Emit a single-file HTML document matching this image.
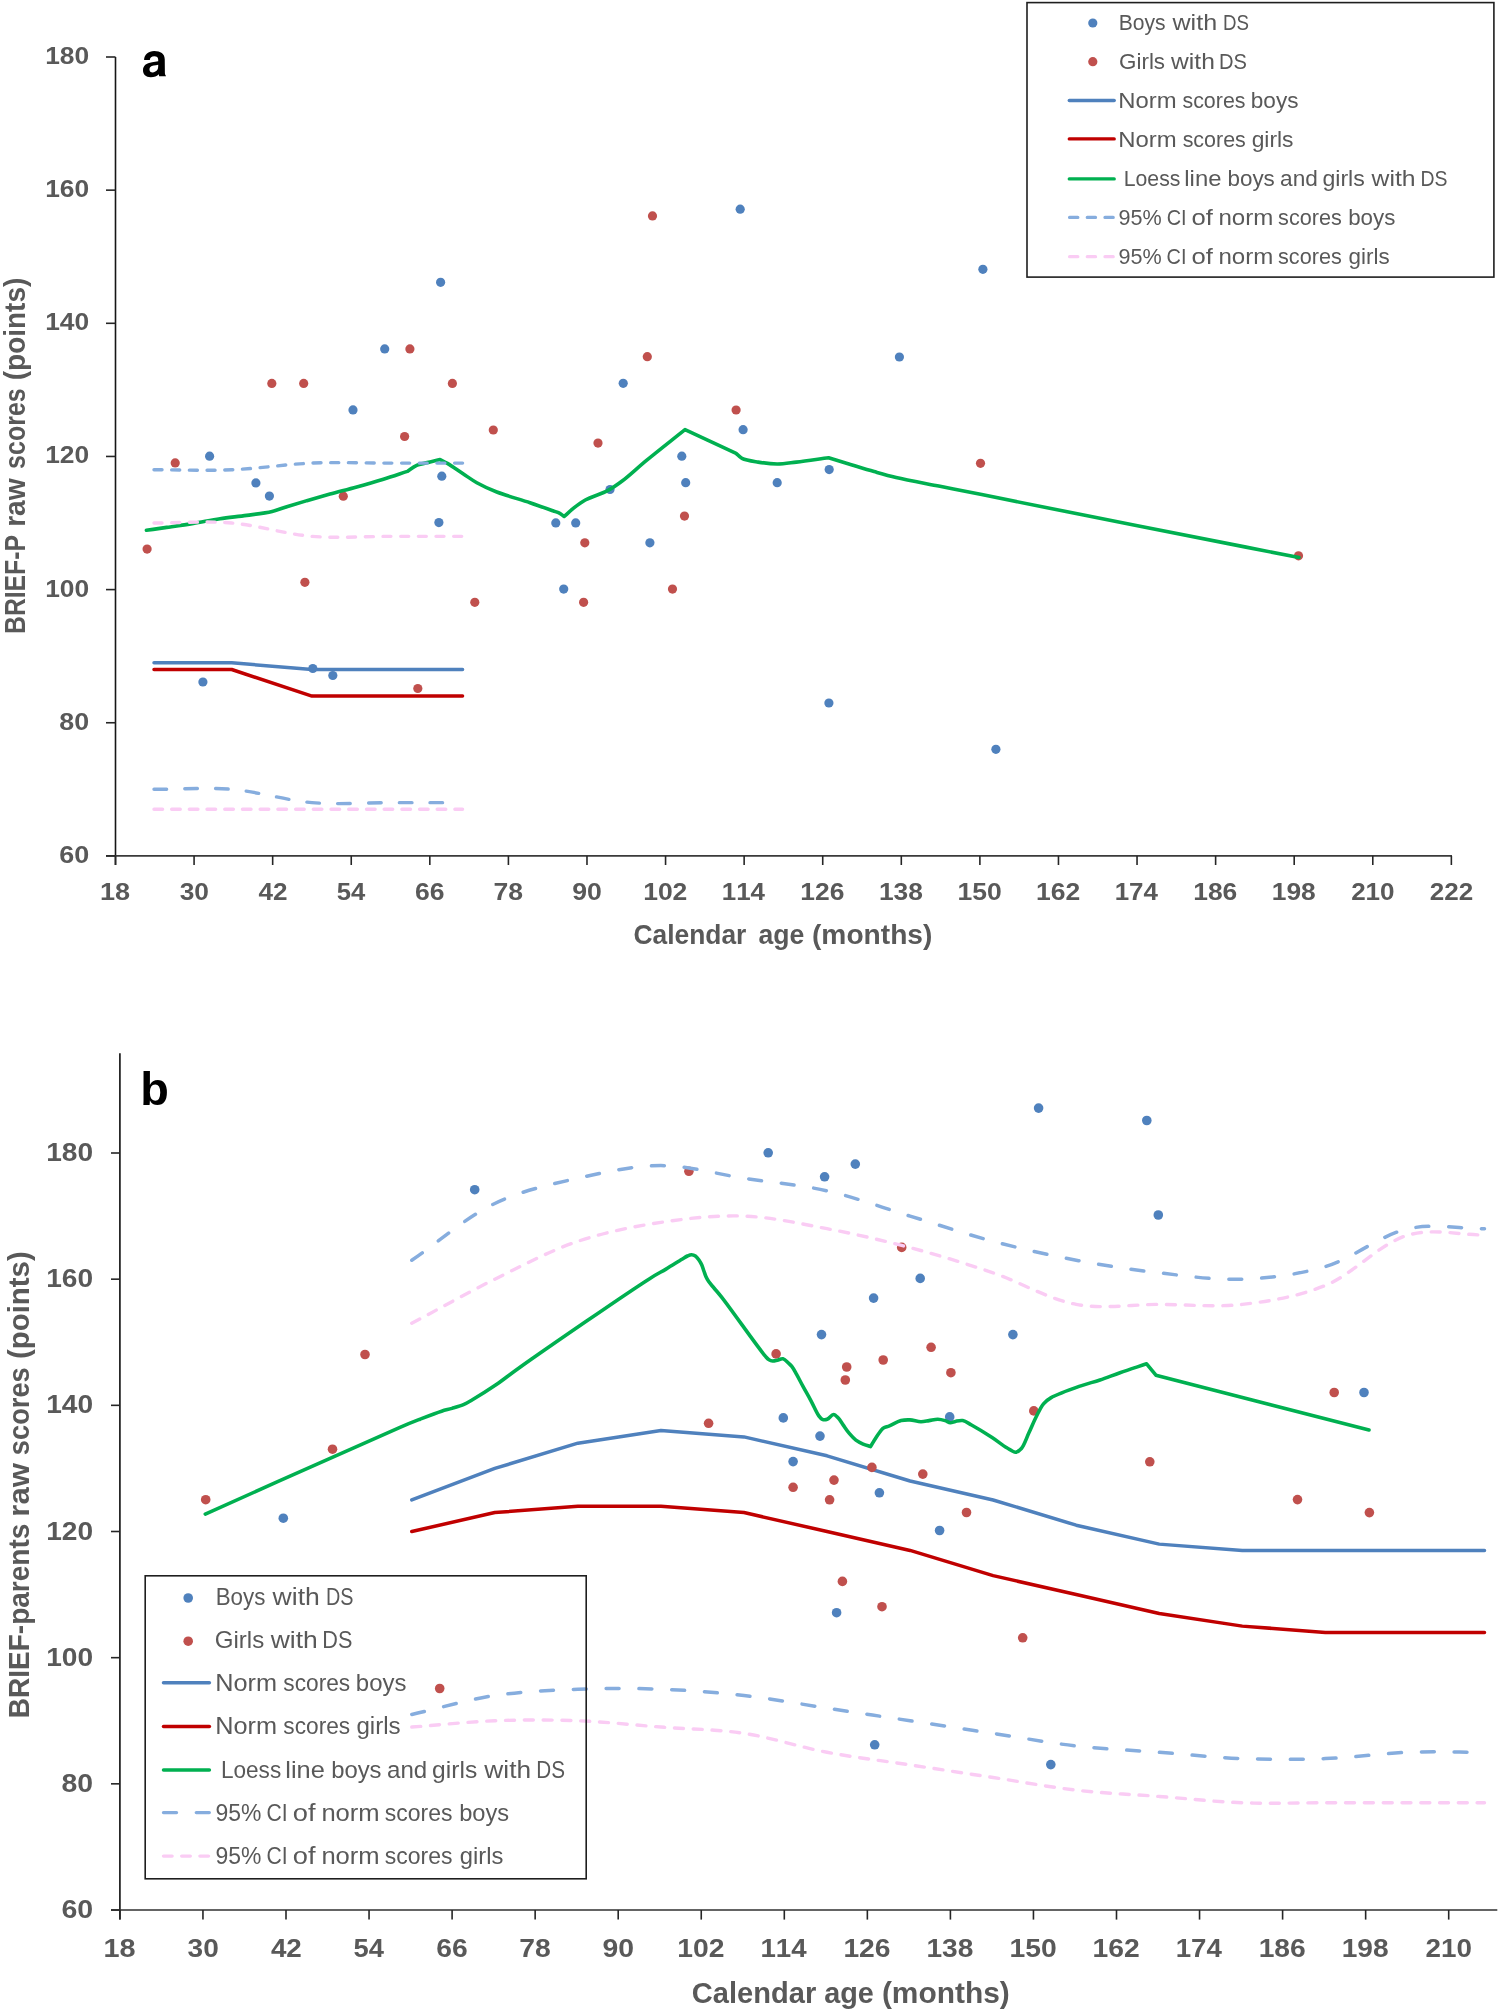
<!DOCTYPE html>
<html><head><meta charset="utf-8"><style>
html,body{margin:0;padding:0;background:#fff;}
svg{display:block;font-family:"Liberation Sans",sans-serif;font-kerning:none;will-change:transform;}
</style></head><body>
<svg width="1499" height="2012" viewBox="0 0 1499 2012">
<rect width="1499" height="2012" fill="#fff"/>
<line x1="115.5" y1="57.0" x2="115.5" y2="865" stroke="#161616" stroke-width="1.6"/>
<line x1="106" y1="855.9" x2="1452" y2="855.9" stroke="#3a3a3a" stroke-width="1.6"/>
<line x1="106" y1="57" x2="115.5" y2="57" stroke="#262626" stroke-width="1.6"/>
<line x1="106" y1="190.15" x2="115.5" y2="190.15" stroke="#262626" stroke-width="1.6"/>
<line x1="106" y1="323.3" x2="115.5" y2="323.3" stroke="#262626" stroke-width="1.6"/>
<line x1="106" y1="456.45" x2="115.5" y2="456.45" stroke="#262626" stroke-width="1.6"/>
<line x1="106" y1="589.6" x2="115.5" y2="589.6" stroke="#262626" stroke-width="1.6"/>
<line x1="106" y1="722.75" x2="115.5" y2="722.75" stroke="#262626" stroke-width="1.6"/>
<line x1="106" y1="855.9" x2="115.5" y2="855.9" stroke="#262626" stroke-width="1.6"/>
<line x1="115.5" y1="855.9" x2="115.5" y2="865" stroke="#262626" stroke-width="1.6"/>
<line x1="194.08" y1="855.9" x2="194.08" y2="865" stroke="#262626" stroke-width="1.6"/>
<line x1="272.66" y1="855.9" x2="272.66" y2="865" stroke="#262626" stroke-width="1.6"/>
<line x1="351.24" y1="855.9" x2="351.24" y2="865" stroke="#262626" stroke-width="1.6"/>
<line x1="429.82" y1="855.9" x2="429.82" y2="865" stroke="#262626" stroke-width="1.6"/>
<line x1="508.4" y1="855.9" x2="508.4" y2="865" stroke="#262626" stroke-width="1.6"/>
<line x1="586.98" y1="855.9" x2="586.98" y2="865" stroke="#262626" stroke-width="1.6"/>
<line x1="665.56" y1="855.9" x2="665.56" y2="865" stroke="#262626" stroke-width="1.6"/>
<line x1="744.14" y1="855.9" x2="744.14" y2="865" stroke="#262626" stroke-width="1.6"/>
<line x1="822.72" y1="855.9" x2="822.72" y2="865" stroke="#262626" stroke-width="1.6"/>
<line x1="901.3" y1="855.9" x2="901.3" y2="865" stroke="#262626" stroke-width="1.6"/>
<line x1="979.88" y1="855.9" x2="979.88" y2="865" stroke="#262626" stroke-width="1.6"/>
<line x1="1058.46" y1="855.9" x2="1058.46" y2="865" stroke="#262626" stroke-width="1.6"/>
<line x1="1137.04" y1="855.9" x2="1137.04" y2="865" stroke="#262626" stroke-width="1.6"/>
<line x1="1215.62" y1="855.9" x2="1215.62" y2="865" stroke="#262626" stroke-width="1.6"/>
<line x1="1294.2" y1="855.9" x2="1294.2" y2="865" stroke="#262626" stroke-width="1.6"/>
<line x1="1372.78" y1="855.9" x2="1372.78" y2="865" stroke="#262626" stroke-width="1.6"/>
<line x1="1451.36" y1="855.9" x2="1451.36" y2="865" stroke="#262626" stroke-width="1.6"/>
<text transform="translate(45.14,63.95) scale(1.0731,1)" font-size="24.6" font-weight="bold" fill="#595959">180</text>
<text transform="translate(45.14,197.1) scale(1.0731,1)" font-size="24.6" font-weight="bold" fill="#595959">160</text>
<text transform="translate(45.14,330.25) scale(1.0731,1)" font-size="24.6" font-weight="bold" fill="#595959">140</text>
<text transform="translate(45.14,463.4) scale(1.0731,1)" font-size="24.6" font-weight="bold" fill="#595959">120</text>
<text transform="translate(45.14,596.55) scale(1.0731,1)" font-size="24.6" font-weight="bold" fill="#595959">100</text>
<text transform="translate(59.35,729.7) scale(1.0910,1)" font-size="24.6" font-weight="bold" fill="#595959">80</text>
<text transform="translate(59.21,862.85) scale(1.0961,1)" font-size="24.6" font-weight="bold" fill="#595959">60</text>
<text transform="translate(99.99,899.95) scale(1.1015,1)" font-size="24.6" font-weight="bold" fill="#595959">18</text>
<text transform="translate(179.68,899.95) scale(1.0702,1)" font-size="24.6" font-weight="bold" fill="#595959">30</text>
<text transform="translate(258.46,899.95) scale(1.0613,1)" font-size="24.6" font-weight="bold" fill="#595959">42</text>
<text transform="translate(336.65,899.95) scale(1.0425,1)" font-size="24.6" font-weight="bold" fill="#595959">54</text>
<text transform="translate(415.05,899.95) scale(1.0793,1)" font-size="24.6" font-weight="bold" fill="#595959">66</text>
<text transform="translate(493.46,899.95) scale(1.0803,1)" font-size="24.6" font-weight="bold" fill="#595959">78</text>
<text transform="translate(572.26,899.95) scale(1.0823,1)" font-size="24.6" font-weight="bold" fill="#595959">90</text>
<text transform="translate(643.14,899.95) scale(1.0777,1)" font-size="24.6" font-weight="bold" fill="#595959">102</text>
<text transform="translate(721.76,899.95) scale(1.0543,1)" font-size="24.6" font-weight="bold" fill="#595959">114</text>
<text transform="translate(800.3,899.95) scale(1.0750,1)" font-size="24.6" font-weight="bold" fill="#595959">126</text>
<text transform="translate(878.89,899.95) scale(1.0713,1)" font-size="24.6" font-weight="bold" fill="#595959">138</text>
<text transform="translate(957.46,899.95) scale(1.0783,1)" font-size="24.6" font-weight="bold" fill="#595959">150</text>
<text transform="translate(1036.04,899.95) scale(1.0777,1)" font-size="24.6" font-weight="bold" fill="#595959">162</text>
<text transform="translate(1114.66,899.95) scale(1.0543,1)" font-size="24.6" font-weight="bold" fill="#595959">174</text>
<text transform="translate(1193.2,899.95) scale(1.0750,1)" font-size="24.6" font-weight="bold" fill="#595959">186</text>
<text transform="translate(1271.79,899.95) scale(1.0713,1)" font-size="24.6" font-weight="bold" fill="#595959">198</text>
<text transform="translate(1351.13,899.95) scale(1.0592,1)" font-size="24.6" font-weight="bold" fill="#595959">210</text>
<text transform="translate(1429.71,899.95) scale(1.0585,1)" font-size="24.6" font-weight="bold" fill="#595959">222</text>
<text transform="translate(633.52,944.1) scale(0.9259,1)" font-size="28.49" font-weight="bold" fill="#595959">Calendar</text>
<text transform="translate(758.52,944.1) scale(0.9327,1)" font-size="28.49" font-weight="bold" fill="#595959">age</text>
<text transform="translate(812,944.1) scale(0.9882,1)" font-size="28.49" font-weight="bold" fill="#595959">(months)</text>
<text transform="translate(24.85,633.95) rotate(-90) scale(0.8569,1)" font-size="28.85" font-weight="bold" fill="#595959">BRIEF-P</text>
<text transform="translate(24.85,526.86) rotate(-90) scale(0.9755,1)" font-size="28.85" font-weight="bold" fill="#595959">raw</text>
<text transform="translate(24.85,468.88) rotate(-90) scale(0.8664,1)" font-size="28.85" font-weight="bold" fill="#595959">scores</text>
<text transform="translate(24.85,380.19) rotate(-90) scale(0.9690,1)" font-size="28.85" font-weight="bold" fill="#595959">(points)</text>
<path transform="translate(135,40) scale(0.026684)" fill="#000" fill-rule="evenodd" d="M340,745 C350,560 500,415 720,415 C960,415 1110,520 1115,720 L1120,1240 C1122,1290 1140,1320 1160,1345 L1160,1362 L905,1362 L893,1280 C830,1352 720,1392 590,1392 C400,1392 300,1280 300,1130 C300,960 420,865 640,832 L870,800 L870,740 C868,650 820,610 720,610 C620,610 565,660 555,745 Z M870,930 C760,952 630,962 575,1010 C530,1050 530,1165 585,1198 C655,1242 790,1205 845,1110 C870,1062 870,990 870,930 Z"/>
<path d="M154,662.83 L231.73,662.83 L311.95,669.49 L390.53,669.49 L462.56,669.49" fill="none" stroke="#4F81BD" stroke-width="3.5" stroke-linecap="round" stroke-linejoin="round"/>
<path d="M154,669.49 L231.73,669.49 L311.95,696.12 L390.53,696.12 L462.56,696.12" fill="none" stroke="#C00000" stroke-width="3.5" stroke-linecap="round" stroke-linejoin="round"/>
<circle cx="440.6" cy="282.3" r="4.6" fill="#4F81BD"/>
<circle cx="384.7" cy="348.9" r="4.6" fill="#4F81BD"/>
<circle cx="353" cy="409.9" r="4.6" fill="#4F81BD"/>
<circle cx="209.6" cy="456.2" r="4.6" fill="#4F81BD"/>
<circle cx="255.9" cy="482.9" r="4.6" fill="#4F81BD"/>
<circle cx="269.4" cy="496.1" r="4.6" fill="#4F81BD"/>
<circle cx="441.8" cy="476.2" r="4.6" fill="#4F81BD"/>
<circle cx="438.9" cy="522.6" r="4.6" fill="#4F81BD"/>
<circle cx="740.2" cy="209.2" r="4.6" fill="#4F81BD"/>
<circle cx="623.2" cy="383.3" r="4.6" fill="#4F81BD"/>
<circle cx="743.1" cy="429.7" r="4.6" fill="#4F81BD"/>
<circle cx="681.8" cy="456.2" r="4.6" fill="#4F81BD"/>
<circle cx="685.7" cy="482.7" r="4.6" fill="#4F81BD"/>
<circle cx="777.2" cy="482.7" r="4.6" fill="#4F81BD"/>
<circle cx="610" cy="489.5" r="4.6" fill="#4F81BD"/>
<circle cx="555.8" cy="522.9" r="4.6" fill="#4F81BD"/>
<circle cx="575.7" cy="522.9" r="4.6" fill="#4F81BD"/>
<circle cx="649.9" cy="542.8" r="4.6" fill="#4F81BD"/>
<circle cx="563.7" cy="589.1" r="4.6" fill="#4F81BD"/>
<circle cx="982.9" cy="269.3" r="4.6" fill="#4F81BD"/>
<circle cx="899.4" cy="357" r="4.6" fill="#4F81BD"/>
<circle cx="829.2" cy="469.6" r="4.6" fill="#4F81BD"/>
<circle cx="828.9" cy="703" r="4.6" fill="#4F81BD"/>
<circle cx="995.9" cy="749.3" r="4.6" fill="#4F81BD"/>
<circle cx="202.9" cy="682" r="4.6" fill="#4F81BD"/>
<circle cx="312.8" cy="668.5" r="4.6" fill="#4F81BD"/>
<circle cx="332.8" cy="675.5" r="4.6" fill="#4F81BD"/>
<circle cx="409.9" cy="348.9" r="4.6" fill="#C0504D"/>
<circle cx="271.8" cy="383.4" r="4.6" fill="#C0504D"/>
<circle cx="303.7" cy="383.4" r="4.6" fill="#C0504D"/>
<circle cx="452.4" cy="383.4" r="4.6" fill="#C0504D"/>
<circle cx="175.2" cy="462.9" r="4.6" fill="#C0504D"/>
<circle cx="404.6" cy="436.5" r="4.6" fill="#C0504D"/>
<circle cx="343.3" cy="496.2" r="4.6" fill="#C0504D"/>
<circle cx="147.1" cy="549.1" r="4.6" fill="#C0504D"/>
<circle cx="652.5" cy="215.9" r="4.6" fill="#C0504D"/>
<circle cx="647.3" cy="356.7" r="4.6" fill="#C0504D"/>
<circle cx="493.3" cy="430" r="4.6" fill="#C0504D"/>
<circle cx="598" cy="443.1" r="4.6" fill="#C0504D"/>
<circle cx="736.1" cy="410" r="4.6" fill="#C0504D"/>
<circle cx="684.5" cy="516.1" r="4.6" fill="#C0504D"/>
<circle cx="584.8" cy="542.8" r="4.6" fill="#C0504D"/>
<circle cx="474.8" cy="602.3" r="4.6" fill="#C0504D"/>
<circle cx="583.6" cy="602.3" r="4.6" fill="#C0504D"/>
<circle cx="672.5" cy="589.1" r="4.6" fill="#C0504D"/>
<circle cx="980.5" cy="463.3" r="4.6" fill="#C0504D"/>
<circle cx="1298.5" cy="555.8" r="4.6" fill="#C0504D"/>
<circle cx="304.9" cy="582.3" r="4.6" fill="#C0504D"/>
<circle cx="417.8" cy="688.5" r="4.6" fill="#C0504D"/>
<path d="M146.4,530.3 C153.17,529.33 159.47,528.46 166.7,527.4 C174.99,526.19 184.52,524.85 193.4,523.4 C202.28,521.95 211.11,520.03 220,518.7 C228.87,517.37 237.92,516.63 246.7,515.4 C255.28,514.19 264.84,513.12 272.1,511.4 C277.72,510.07 281.52,508.34 286.8,506.7 C292.95,504.8 299.88,502.72 306.8,500.7 C314.24,498.53 321.99,496.31 330,494.1 C338.58,491.74 347.82,489.48 356.7,487 C365.62,484.51 374.76,481.87 383.4,479.2 C391.63,476.66 399.4,474 407.4,471.4 C410.5,469.4 413.18,466.93 416.7,465.4 C420.64,463.69 425.96,463.02 430.1,462 C433.67,461.12 436.77,460.4 440.1,459.6 C442.53,460.87 444.55,461.72 447.4,463.4 C451.76,465.97 458.3,470.65 463.4,474 C468.06,477.05 471.78,479.92 476.8,482.7 C482.7,485.97 489.19,489.02 496.8,492 C506.37,495.75 519.98,499.31 530,502.7 C538.36,505.53 547.6,508.88 552.9,510.8 C555.73,511.82 557.45,512.19 559.4,513.2 C561.18,514.12 562.6,515.4 564.2,516.5 C567.23,513.8 569.97,511.03 573.3,508.4 C576.95,505.52 580.5,502.65 585.3,500 C591.54,496.55 601.51,493.94 608.1,490.4 C613.61,487.44 617.22,484.78 622.5,480.8 C629.62,475.43 637.5,467.82 646.5,460.4 C657.76,451.11 672.17,439.87 685,429.6 L736.1,453.3 C738.07,455 739.33,457.05 742,458.4 C745.9,460.37 752.55,461.18 758.2,462.1 C764.25,463.09 770.86,464 777.2,464 C783.56,464 789.11,462.95 796.3,462.1 C805.67,461 817.83,459.17 828.6,457.7 C836.43,460.13 844.39,462.65 852.1,465 C859.55,467.27 866.75,469.51 874.1,471.6 C881.42,473.68 887.47,475.48 896.1,477.5 C908.19,480.33 925.55,483.41 940,486.3 C954.08,489.11 963.33,490.93 981.7,494.6 C1017.5,501.75 1087.16,515.83 1140,526.3 C1192.93,536.79 1246,547.1 1299,557.5" fill="none" stroke="#00B050" stroke-width="3.6" stroke-linecap="round" stroke-linejoin="round"/>
<path d="M154,469.76 C179.91,469.76 205.64,470.85 231.73,469.76 C258.28,468.67 285.33,464.21 311.95,463.11 C338.26,462.02 364.91,463.11 390.53,463.11 C415.06,463.11 438.55,463.11 462.56,463.11" fill="none" stroke="#86ADDE" stroke-width="3.4" stroke-linecap="round" stroke-linejoin="round" stroke-dasharray="8 9.7"/>
<path d="M154,789.32 C179.91,789.32 205.71,787.18 231.73,789.32 C258.35,791.52 285.26,800.44 311.95,802.64 C338.19,804.8 365.27,802.64 390.53,802.64 C414.04,802.64 435.93,802.64 458.63,802.64" fill="none" stroke="#86ADDE" stroke-width="3.4" stroke-linecap="round" stroke-linejoin="round" stroke-dasharray="12.6 18.2"/>
<path d="M154,523.02 C179.91,523.02 205.71,520.88 231.73,523.02 C258.35,525.22 285.26,534.14 311.95,536.34 C338.19,538.5 364.91,536.34 390.53,536.34 C415.06,536.34 438.55,536.34 462.56,536.34" fill="none" stroke="#FACCF4" stroke-width="3.4" stroke-linecap="round" stroke-linejoin="round" stroke-dasharray="8 9.7"/>
<path d="M154,809.3 C179.91,809.3 205.62,809.3 231.73,809.3 C258.26,809.3 285.35,809.3 311.95,809.3 C338.28,809.3 364.91,809.3 390.53,809.3 C415.06,809.3 438.55,809.3 462.56,809.3" fill="none" stroke="#FACCF4" stroke-width="3.4" stroke-linecap="round" stroke-linejoin="round" stroke-dasharray="8.6 9.1"/>
<rect x="1027" y="2.6" width="466.9" height="274.5" fill="none" stroke="#1e1e1e" stroke-width="1.6"/>
<circle cx="1092.8" cy="23" r="4.6" fill="#4F81BD"/>
<circle cx="1092.8" cy="61.7" r="4.6" fill="#C0504D"/>
<line x1="1069.3" y1="100.5" x2="1114.2" y2="100.5" stroke="#4F81BD" stroke-width="3.4" stroke-linecap="round"/>
<line x1="1069.3" y1="138.9" x2="1114.2" y2="138.9" stroke="#C00000" stroke-width="3.4" stroke-linecap="round"/>
<line x1="1069.3" y1="178.9" x2="1114.2" y2="178.9" stroke="#00B050" stroke-width="3.4" stroke-linecap="round"/>
<line x1="1069.6" y1="217.4" x2="1114.2" y2="217.4" stroke="#86ADDE" stroke-width="3.3" stroke-linecap="round" stroke-dasharray="8.2 9.5"/>
<line x1="1069.6" y1="256.7" x2="1114.2" y2="256.7" stroke="#FACCF4" stroke-width="3.3" stroke-linecap="round" stroke-dasharray="8.2 9.5"/>
<line x1="119.9" y1="1053.3" x2="119.9" y2="1919.6" stroke="#1c1c1c" stroke-width="1.7"/>
<line x1="111" y1="1910.0" x2="1497.3" y2="1910.0" stroke="#303030" stroke-width="1.7"/>
<line x1="111" y1="1153" x2="119.9" y2="1153" stroke="#262626" stroke-width="1.6"/>
<line x1="111" y1="1279.17" x2="119.9" y2="1279.17" stroke="#262626" stroke-width="1.6"/>
<line x1="111" y1="1405.33" x2="119.9" y2="1405.33" stroke="#262626" stroke-width="1.6"/>
<line x1="111" y1="1531.5" x2="119.9" y2="1531.5" stroke="#262626" stroke-width="1.6"/>
<line x1="111" y1="1657.67" x2="119.9" y2="1657.67" stroke="#262626" stroke-width="1.6"/>
<line x1="111" y1="1783.83" x2="119.9" y2="1783.83" stroke="#262626" stroke-width="1.6"/>
<line x1="111" y1="1910" x2="119.9" y2="1910" stroke="#262626" stroke-width="1.6"/>
<line x1="119.9" y1="1910.0" x2="119.9" y2="1919.6" stroke="#262626" stroke-width="1.6"/>
<line x1="202.95" y1="1910.0" x2="202.95" y2="1919.6" stroke="#262626" stroke-width="1.6"/>
<line x1="286" y1="1910.0" x2="286" y2="1919.6" stroke="#262626" stroke-width="1.6"/>
<line x1="369.05" y1="1910.0" x2="369.05" y2="1919.6" stroke="#262626" stroke-width="1.6"/>
<line x1="452.1" y1="1910.0" x2="452.1" y2="1919.6" stroke="#262626" stroke-width="1.6"/>
<line x1="535.15" y1="1910.0" x2="535.15" y2="1919.6" stroke="#262626" stroke-width="1.6"/>
<line x1="618.2" y1="1910.0" x2="618.2" y2="1919.6" stroke="#262626" stroke-width="1.6"/>
<line x1="701.25" y1="1910.0" x2="701.25" y2="1919.6" stroke="#262626" stroke-width="1.6"/>
<line x1="784.3" y1="1910.0" x2="784.3" y2="1919.6" stroke="#262626" stroke-width="1.6"/>
<line x1="867.35" y1="1910.0" x2="867.35" y2="1919.6" stroke="#262626" stroke-width="1.6"/>
<line x1="950.4" y1="1910.0" x2="950.4" y2="1919.6" stroke="#262626" stroke-width="1.6"/>
<line x1="1033.45" y1="1910.0" x2="1033.45" y2="1919.6" stroke="#262626" stroke-width="1.6"/>
<line x1="1116.5" y1="1910.0" x2="1116.5" y2="1919.6" stroke="#262626" stroke-width="1.6"/>
<line x1="1199.55" y1="1910.0" x2="1199.55" y2="1919.6" stroke="#262626" stroke-width="1.6"/>
<line x1="1282.6" y1="1910.0" x2="1282.6" y2="1919.6" stroke="#262626" stroke-width="1.6"/>
<line x1="1365.65" y1="1910.0" x2="1365.65" y2="1919.6" stroke="#262626" stroke-width="1.6"/>
<line x1="1448.7" y1="1910.0" x2="1448.7" y2="1919.6" stroke="#262626" stroke-width="1.6"/>
<text transform="translate(46.23,1161) scale(1.1073,1)" font-size="25.4" font-weight="bold" fill="#595959">180</text>
<text transform="translate(46.23,1287.17) scale(1.1073,1)" font-size="25.4" font-weight="bold" fill="#595959">160</text>
<text transform="translate(46.23,1413.33) scale(1.1073,1)" font-size="25.4" font-weight="bold" fill="#595959">140</text>
<text transform="translate(46.23,1539.5) scale(1.1073,1)" font-size="25.4" font-weight="bold" fill="#595959">120</text>
<text transform="translate(46.23,1665.67) scale(1.1073,1)" font-size="25.4" font-weight="bold" fill="#595959">100</text>
<text transform="translate(61.6,1791.83) scale(1.1172,1)" font-size="25.4" font-weight="bold" fill="#595959">80</text>
<text transform="translate(61.46,1918) scale(1.1225,1)" font-size="25.4" font-weight="bold" fill="#595959">60</text>
<text transform="translate(103.38,1956.95) scale(1.1364,1)" font-size="25.4" font-weight="bold" fill="#595959">18</text>
<text transform="translate(187.61,1956.95) scale(1.1041,1)" font-size="25.4" font-weight="bold" fill="#595959">30</text>
<text transform="translate(270.88,1956.95) scale(1.0949,1)" font-size="25.4" font-weight="bold" fill="#595959">42</text>
<text transform="translate(353.51,1956.95) scale(1.0756,1)" font-size="25.4" font-weight="bold" fill="#595959">54</text>
<text transform="translate(436.36,1956.95) scale(1.1134,1)" font-size="25.4" font-weight="bold" fill="#595959">66</text>
<text transform="translate(519.23,1956.95) scale(1.1145,1)" font-size="25.4" font-weight="bold" fill="#595959">78</text>
<text transform="translate(602.52,1956.95) scale(1.1166,1)" font-size="25.4" font-weight="bold" fill="#595959">90</text>
<text transform="translate(677.32,1956.95) scale(1.1141,1)" font-size="25.4" font-weight="bold" fill="#595959">102</text>
<text transform="translate(760.41,1956.95) scale(1.0900,1)" font-size="25.4" font-weight="bold" fill="#595959">114</text>
<text transform="translate(843.42,1956.95) scale(1.1114,1)" font-size="25.4" font-weight="bold" fill="#595959">126</text>
<text transform="translate(926.48,1956.95) scale(1.1076,1)" font-size="25.4" font-weight="bold" fill="#595959">138</text>
<text transform="translate(1009.52,1956.95) scale(1.1148,1)" font-size="25.4" font-weight="bold" fill="#595959">150</text>
<text transform="translate(1092.57,1956.95) scale(1.1141,1)" font-size="25.4" font-weight="bold" fill="#595959">162</text>
<text transform="translate(1175.66,1956.95) scale(1.0900,1)" font-size="25.4" font-weight="bold" fill="#595959">174</text>
<text transform="translate(1258.67,1956.95) scale(1.1114,1)" font-size="25.4" font-weight="bold" fill="#595959">186</text>
<text transform="translate(1341.73,1956.95) scale(1.1076,1)" font-size="25.4" font-weight="bold" fill="#595959">198</text>
<text transform="translate(1425.59,1956.95) scale(1.0950,1)" font-size="25.4" font-weight="bold" fill="#595959">210</text>
<text transform="translate(691.81,2002.6) scale(0.9855,1)" font-size="29.51" font-weight="bold" fill="#595959">Calendar</text>
<text transform="translate(824.26,2002.6) scale(0.9761,1)" font-size="29.51" font-weight="bold" fill="#595959">age</text>
<text transform="translate(881.91,2002.6) scale(1.0133,1)" font-size="29.51" font-weight="bold" fill="#595959">(months)</text>
<text transform="translate(28.7,1718.28) rotate(-90) scale(0.9296,1)" font-size="30.16" font-weight="bold" fill="#595959">BRIEF-parents</text>
<text transform="translate(28.7,1516.64) rotate(-90) scale(1.0271,1)" font-size="30.16" font-weight="bold" fill="#595959">raw</text>
<text transform="translate(28.7,1455.16) rotate(-90) scale(0.9046,1)" font-size="30.16" font-weight="bold" fill="#595959">scores</text>
<text transform="translate(28.7,1359.07) rotate(-90) scale(0.9754,1)" font-size="30.16" font-weight="bold" fill="#595959">(points)</text>
<text transform="translate(140.2,1105.2) scale(1.02,1)" font-size="45.9" font-weight="bold" fill="#000">b</text>
<path d="M411.78,1499.96 L494.82,1468.42 L577.88,1443.18 L660.93,1430.57 L743.98,1436.88 L827.02,1455.8 L910.08,1481.03 L993.12,1499.96 L1076.18,1525.19 L1159.23,1544.12 L1242.28,1550.42 L1325.33,1550.42 L1408.38,1550.42 L1484.5,1550.42" fill="none" stroke="#4F81BD" stroke-width="3.5" stroke-linecap="round" stroke-linejoin="round"/>
<path d="M411.78,1531.5 L494.82,1512.58 L577.88,1506.27 L660.93,1506.27 L743.98,1512.58 L827.02,1531.5 L910.08,1550.42 L993.12,1575.66 L1076.18,1594.58 L1159.23,1613.51 L1242.28,1626.12 L1325.33,1632.43 L1408.38,1632.43 L1484.5,1632.43" fill="none" stroke="#C00000" stroke-width="3.5" stroke-linecap="round" stroke-linejoin="round"/>
<circle cx="474.7" cy="1189.7" r="4.8" fill="#4F81BD"/>
<circle cx="283.3" cy="1518.2" r="4.8" fill="#4F81BD"/>
<circle cx="768.2" cy="1152.8" r="4.8" fill="#4F81BD"/>
<circle cx="824.6" cy="1176.8" r="4.8" fill="#4F81BD"/>
<circle cx="821.5" cy="1334.6" r="4.8" fill="#4F81BD"/>
<circle cx="783.3" cy="1417.9" r="4.8" fill="#4F81BD"/>
<circle cx="1038.6" cy="1108.1" r="4.8" fill="#4F81BD"/>
<circle cx="855.3" cy="1164.1" r="4.8" fill="#4F81BD"/>
<circle cx="920.2" cy="1278.4" r="4.8" fill="#4F81BD"/>
<circle cx="873.6" cy="1298.1" r="4.8" fill="#4F81BD"/>
<circle cx="1012.9" cy="1334.6" r="4.8" fill="#4F81BD"/>
<circle cx="949.7" cy="1416.9" r="4.8" fill="#4F81BD"/>
<circle cx="820" cy="1436.1" r="4.8" fill="#4F81BD"/>
<circle cx="793.1" cy="1461.6" r="4.8" fill="#4F81BD"/>
<circle cx="879.4" cy="1492.8" r="4.8" fill="#4F81BD"/>
<circle cx="939.6" cy="1530.5" r="4.8" fill="#4F81BD"/>
<circle cx="836.6" cy="1612.7" r="4.8" fill="#4F81BD"/>
<circle cx="874.7" cy="1744.8" r="4.8" fill="#4F81BD"/>
<circle cx="1050.8" cy="1764.6" r="4.8" fill="#4F81BD"/>
<circle cx="1146.8" cy="1120.5" r="4.8" fill="#4F81BD"/>
<circle cx="1158.3" cy="1215" r="4.8" fill="#4F81BD"/>
<circle cx="1364" cy="1392.5" r="4.8" fill="#4F81BD"/>
<circle cx="205.7" cy="1499.7" r="4.8" fill="#C0504D"/>
<circle cx="332.5" cy="1449.2" r="4.8" fill="#C0504D"/>
<circle cx="365" cy="1354.5" r="4.8" fill="#C0504D"/>
<circle cx="439.7" cy="1688.5" r="4.8" fill="#C0504D"/>
<circle cx="688.9" cy="1171.3" r="4.8" fill="#C0504D"/>
<circle cx="776.1" cy="1353.9" r="4.8" fill="#C0504D"/>
<circle cx="708.6" cy="1423.3" r="4.8" fill="#C0504D"/>
<circle cx="901.7" cy="1247.4" r="4.8" fill="#C0504D"/>
<circle cx="931.1" cy="1347.3" r="4.8" fill="#C0504D"/>
<circle cx="883.2" cy="1360" r="4.8" fill="#C0504D"/>
<circle cx="846.7" cy="1367" r="4.8" fill="#C0504D"/>
<circle cx="950.9" cy="1372.7" r="4.8" fill="#C0504D"/>
<circle cx="845.3" cy="1380" r="4.8" fill="#C0504D"/>
<circle cx="1033.8" cy="1410.9" r="4.8" fill="#C0504D"/>
<circle cx="871.9" cy="1467.4" r="4.8" fill="#C0504D"/>
<circle cx="922.8" cy="1474.1" r="4.8" fill="#C0504D"/>
<circle cx="834" cy="1480.1" r="4.8" fill="#C0504D"/>
<circle cx="793.1" cy="1487.3" r="4.8" fill="#C0504D"/>
<circle cx="829.6" cy="1499.8" r="4.8" fill="#C0504D"/>
<circle cx="966.5" cy="1512.5" r="4.8" fill="#C0504D"/>
<circle cx="842.4" cy="1581.4" r="4.8" fill="#C0504D"/>
<circle cx="882" cy="1606.7" r="4.8" fill="#C0504D"/>
<circle cx="1022.7" cy="1637.8" r="4.8" fill="#C0504D"/>
<circle cx="1149.8" cy="1461.8" r="4.8" fill="#C0504D"/>
<circle cx="1297.5" cy="1499.6" r="4.8" fill="#C0504D"/>
<circle cx="1369.4" cy="1512.6" r="4.8" fill="#C0504D"/>
<circle cx="1334.2" cy="1392.5" r="4.8" fill="#C0504D"/>
<path d="M205.3,1514.1 C270.2,1485.17 368.44,1440.72 400,1427.3 C410.04,1423.03 413.18,1421.84 420,1419.2 C427.04,1416.47 435.67,1413.09 441.6,1411.2 C445.66,1409.91 448.43,1409.48 452,1408.4 C455.87,1407.23 460.47,1405.95 464,1404.4 C467,1403.09 468.66,1401.98 472,1400 C477.9,1396.52 488.09,1390.2 496,1384.8 C504.1,1379.28 508.71,1375.19 520,1367.2 C545.96,1348.83 627.35,1292.69 650,1278.4 C657.76,1273.5 660.69,1272.29 666,1269.1 C671.36,1265.89 678.07,1261.58 682,1259.2 C684.27,1257.83 685.67,1256.77 687.4,1256 C688.85,1255.36 690.24,1254.68 691.6,1254.7 C692.9,1254.72 694.24,1255.21 695.4,1256 C696.78,1256.93 698.03,1258.77 699.1,1260.3 C700.16,1261.81 701.02,1263.38 701.8,1265.1 C702.63,1266.93 703.2,1269.04 703.9,1271 C704.6,1272.94 705.17,1274.99 706,1276.8 C706.78,1278.51 707.56,1279.94 708.7,1281.6 C710.1,1283.64 712.05,1285.65 714,1288 C716.39,1290.88 718.36,1292.97 722,1297.6 C730.81,1308.81 758.93,1348.89 765.5,1356.4 C767.2,1358.34 767.73,1359.03 769,1359.8 C770.12,1360.48 771.3,1360.9 772.6,1361 C774.07,1361.12 775.75,1360.54 777.4,1360.2 C779.2,1359.83 781.22,1358.42 783,1358.8 C784.98,1359.22 787.03,1361.8 788.6,1363.2 C789.85,1364.31 790.71,1365.01 791.8,1366.4 C793.36,1368.4 794.92,1371.44 796.6,1374.4 C798.62,1377.97 800.73,1382.23 803,1386.4 C805.5,1390.99 808.36,1395.91 811,1400.8 C813.7,1405.81 816.69,1413 819,1416.1 C820.19,1417.7 820.97,1418.76 822.3,1419.3 C823.66,1419.85 825.48,1419.84 827.1,1419.3 C829.2,1418.6 831.52,1414.5 833.5,1414.5 C835.21,1414.5 836.81,1416.57 838.3,1418.1 C840.05,1419.91 841.38,1422.49 843.1,1424.9 C845.07,1427.65 847.26,1431.08 849.5,1433.7 C851.54,1436.09 853.57,1438.34 855.9,1440.1 C858.12,1441.78 860.63,1443.01 863.1,1444.1 C865.5,1445.16 868.03,1445.77 870.5,1446.6 C872.37,1443.57 874.22,1440.34 876.1,1437.5 C877.82,1434.9 879.87,1431.89 881.3,1430.2 C882.14,1429.21 882.5,1428.64 883.5,1428 C884.92,1427.08 887.12,1426.73 889.4,1425.8 C892.66,1424.47 897.4,1421.54 901.1,1420.6 C904.17,1419.82 906.81,1419.77 909.9,1419.9 C913.37,1420.04 917.51,1421.65 920.9,1421.7 C923.8,1421.74 926.25,1421.01 929,1420.6 C931.87,1420.18 935.01,1419.16 937.8,1419.2 C940.35,1419.24 942.9,1419.93 945.1,1420.6 C947.01,1421.18 948.55,1422.68 950.3,1422.8 C951.99,1422.91 953.53,1421.76 955.4,1421.4 C957.6,1420.98 960.22,1420.16 962.7,1420.6 C965.57,1421.11 968,1423.07 971.5,1425 C976.98,1428.02 985.87,1433.43 992.1,1437.5 C997.48,1441.01 1002.44,1445.2 1006.8,1447.8 C1010.03,1449.72 1013.01,1452.34 1015.6,1452.2 C1017.77,1452.09 1019.61,1450.52 1021.4,1448.5 C1024.22,1445.32 1026.37,1438.3 1028.8,1433.1 C1031.27,1427.81 1033.55,1422.05 1036.1,1417 C1038.46,1412.33 1040.68,1407.14 1043.5,1403.8 C1045.72,1401.17 1047.35,1399.93 1050.8,1397.9 C1057.12,1394.18 1071.12,1389.24 1080,1386.1 C1087.23,1383.54 1093.36,1382.22 1100,1380 C1106.7,1377.76 1112.84,1375.2 1120,1372.7 C1128.22,1369.83 1137.73,1366.77 1146.6,1363.8 L1155.9,1375.2 L1369,1430" fill="none" stroke="#00B050" stroke-width="3.6" stroke-linecap="round" stroke-linejoin="round"/>
<path d="M411.78,1260.24 C439.46,1241.32 466.04,1217.27 494.82,1203.47 C521.56,1190.64 549.96,1184.56 577.88,1178.23 C605.34,1172.01 633.24,1165.62 660.93,1165.62 C688.61,1165.62 716.29,1174.03 743.98,1178.23 C771.66,1182.44 799.56,1184.63 827.02,1190.85 C854.94,1197.18 882.39,1207.67 910.08,1216.08 C937.76,1224.49 965.31,1233.93 993.12,1241.32 C1020.68,1248.63 1048.39,1254.97 1076.18,1260.24 C1103.76,1265.47 1131.48,1269.7 1159.23,1272.86 C1186.85,1276 1214.65,1280.2 1242.28,1279.17 C1270.02,1278.13 1298.19,1274.62 1325.33,1266.55 C1353.61,1258.14 1380.64,1234.72 1408.38,1228.7 C1433.71,1223.2 1459.13,1228.7 1484.5,1228.7" fill="none" stroke="#86ADDE" stroke-width="3.5" stroke-linecap="round" stroke-linejoin="round" stroke-dasharray="12.9 19.9"/>
<path d="M411.78,1714.44 C439.46,1708.13 466.98,1699.72 494.82,1695.52 C522.35,1691.36 550.17,1690.26 577.88,1689.21 C605.54,1688.16 633.26,1688.16 660.93,1689.21 C688.63,1690.26 716.35,1692.37 743.98,1695.52 C771.72,1698.67 799.34,1703.93 827.02,1708.13 C854.71,1712.34 882.39,1716.54 910.08,1720.75 C937.76,1724.96 965.44,1729.16 993.12,1733.37 C1020.81,1737.57 1048.43,1742.83 1076.18,1745.98 C1103.8,1749.13 1131.54,1750.19 1159.23,1752.29 C1186.91,1754.39 1214.57,1757.55 1242.28,1758.6 C1269.94,1759.65 1297.66,1759.65 1325.33,1758.6 C1353.03,1757.55 1381.27,1753.32 1408.38,1752.29 C1434.28,1751.31 1459.13,1752.29 1484.5,1752.29" fill="none" stroke="#86ADDE" stroke-width="3.5" stroke-linecap="round" stroke-linejoin="round" stroke-dasharray="12.9 19.9"/>
<path d="M411.78,1323.32 C439.46,1308.61 466.93,1292.92 494.82,1279.17 C522.3,1265.62 549.7,1250.84 577.88,1241.32 C605.1,1232.12 633.08,1226.6 660.93,1222.39 C688.45,1218.23 716.35,1215.05 743.98,1216.08 C771.72,1217.12 799.44,1223.47 827.02,1228.7 C854.81,1233.97 882.52,1240.31 910.08,1247.62 C937.89,1255.01 965.6,1263.46 993.12,1272.86 C1020.97,1282.36 1048.01,1299.23 1076.18,1304.4 C1103.41,1309.4 1131.54,1304.4 1159.23,1304.4 C1186.91,1304.4 1214.76,1307.49 1242.28,1304.4 C1270.14,1301.27 1298.5,1296.35 1325.33,1285.47 C1353.98,1273.86 1380.17,1242.91 1408.38,1235.01 C1433.34,1228.02 1459.13,1235.01 1484.5,1235.01" fill="none" stroke="#FACCF4" stroke-width="3.4" stroke-linecap="round" stroke-linejoin="round" stroke-dasharray="9 9.8"/>
<path d="M411.78,1727.06 C439.46,1724.96 467.12,1721.8 494.82,1720.75 C522.49,1719.7 550.21,1719.7 577.88,1720.75 C605.58,1721.8 633.24,1724.96 660.93,1727.06 C688.61,1729.16 716.45,1729.21 743.98,1733.37 C771.82,1737.57 799.24,1747.02 827.02,1752.29 C854.61,1757.52 882.39,1760.7 910.08,1764.91 C937.76,1769.11 965.44,1773.32 993.12,1777.53 C1020.81,1781.73 1048.43,1786.99 1076.18,1790.14 C1103.8,1793.28 1131.54,1794.35 1159.23,1796.45 C1186.91,1798.55 1214.57,1801.71 1242.28,1802.76 C1269.94,1803.81 1297.64,1802.76 1325.33,1802.76 C1353.01,1802.76 1381.29,1802.76 1408.38,1802.76 C1434.3,1802.76 1459.13,1802.76 1484.5,1802.76" fill="none" stroke="#FACCF4" stroke-width="3.4" stroke-linecap="round" stroke-linejoin="round" stroke-dasharray="9 9.8"/>
<rect x="145.2" y="1575.8" width="441" height="303" fill="none" stroke="#1e1e1e" stroke-width="1.6"/>
<circle cx="188.2" cy="1598" r="4.8" fill="#4F81BD"/>
<circle cx="188.2" cy="1641.2" r="4.8" fill="#C0504D"/>
<line x1="163.5" y1="1682.7" x2="209.4" y2="1682.7" stroke="#4F81BD" stroke-width="3.5" stroke-linecap="round"/>
<line x1="163.5" y1="1726.6" x2="209.4" y2="1726.6" stroke="#C00000" stroke-width="3.5" stroke-linecap="round"/>
<line x1="163.5" y1="1770" x2="209.4" y2="1770" stroke="#00B050" stroke-width="3.5" stroke-linecap="round"/>
<line x1="163.5" y1="1812.6" x2="209.4" y2="1812.6" stroke="#86ADDE" stroke-width="3.4" stroke-linecap="round" stroke-dasharray="13 19.8"/>
<line x1="163.5" y1="1856.1" x2="209.4" y2="1856.1" stroke="#FACCF4" stroke-width="3.4" stroke-linecap="round" stroke-dasharray="8.6 9.6"/>
<text transform="translate(1118.77,29.6) scale(0.9360,1)" font-size="22.53" font-weight="normal" fill="#595959">Boys</text>
<text transform="translate(1172.48,29.6) scale(1.1148,1)" font-size="22.53" font-weight="normal" fill="#595959">with</text>
<text transform="translate(1222.95,29.6) scale(0.8310,1)" font-size="22.53" font-weight="normal" fill="#595959">DS</text>
<text transform="translate(1119.07,68.72) scale(0.9937,1)" font-size="22.53" font-weight="normal" fill="#595959">Girls</text>
<text transform="translate(1171.1,68.72) scale(1.0927,1)" font-size="22.53" font-weight="normal" fill="#595959">with</text>
<text transform="translate(1219.06,68.72) scale(0.8934,1)" font-size="22.53" font-weight="normal" fill="#595959">DS</text>
<text transform="translate(1118.24,107.84) scale(1.0586,1)" font-size="22.53" font-weight="normal" fill="#595959">Norm</text>
<text transform="translate(1182.48,107.84) scale(0.9497,1)" font-size="22.53" font-weight="normal" fill="#595959">scores</text>
<text transform="translate(1250.81,107.84) scale(1.0025,1)" font-size="22.53" font-weight="normal" fill="#595959">boys</text>
<text transform="translate(1118.24,146.96) scale(1.0615,1)" font-size="22.53" font-weight="normal" fill="#595959">Norm</text>
<text transform="translate(1182.65,146.96) scale(0.9523,1)" font-size="22.53" font-weight="normal" fill="#595959">scores</text>
<text transform="translate(1251.66,146.96) scale(1.0134,1)" font-size="22.53" font-weight="normal" fill="#595959">girls</text>
<text transform="translate(1123.76,186.08) scale(0.9432,1)" font-size="22.53" font-weight="normal" fill="#595959">Loess</text>
<text transform="translate(1184.29,186.08) scale(1.0607,1)" font-size="22.53" font-weight="normal" fill="#595959">line</text>
<text transform="translate(1227.45,186.08) scale(0.9964,1)" font-size="22.53" font-weight="normal" fill="#595959">boys</text>
<text transform="translate(1280.05,186.08) scale(1.0055,1)" font-size="22.53" font-weight="normal" fill="#595959">and</text>
<text transform="translate(1322.38,186.08) scale(1.0277,1)" font-size="22.53" font-weight="normal" fill="#595959">girls</text>
<text transform="translate(1371.56,186.08) scale(1.0983,1)" font-size="22.53" font-weight="normal" fill="#595959">with</text>
<text transform="translate(1420.45,186.08) scale(0.8642,1)" font-size="22.53" font-weight="normal" fill="#595959">DS</text>
<text transform="translate(1118.59,225.2) scale(0.9588,1)" font-size="22.53" font-weight="normal" fill="#595959">95%</text>
<text transform="translate(1166.64,225.2) scale(0.8832,1)" font-size="22.53" font-weight="normal" fill="#595959">CI</text>
<text transform="translate(1191.53,225.2) scale(1.1383,1)" font-size="22.53" font-weight="normal" fill="#595959">of</text>
<text transform="translate(1218.43,225.2) scale(1.0697,1)" font-size="22.53" font-weight="normal" fill="#595959">norm</text>
<text transform="translate(1278.12,225.2) scale(0.9607,1)" font-size="22.53" font-weight="normal" fill="#595959">scores</text>
<text transform="translate(1348.22,225.2) scale(0.9894,1)" font-size="22.53" font-weight="normal" fill="#595959">boys</text>
<text transform="translate(1118.59,264.32) scale(0.9583,1)" font-size="22.53" font-weight="normal" fill="#595959">95%</text>
<text transform="translate(1166.61,264.32) scale(0.8828,1)" font-size="22.53" font-weight="normal" fill="#595959">CI</text>
<text transform="translate(1191.5,264.32) scale(1.1378,1)" font-size="22.53" font-weight="normal" fill="#595959">of</text>
<text transform="translate(1218.38,264.32) scale(1.0692,1)" font-size="22.53" font-weight="normal" fill="#595959">norm</text>
<text transform="translate(1278.04,264.32) scale(0.9602,1)" font-size="22.53" font-weight="normal" fill="#595959">scores</text>
<text transform="translate(1348.6,264.32) scale(0.9952,1)" font-size="22.53" font-weight="normal" fill="#595959">girls</text>
<text transform="translate(215.67,1604.5) scale(0.9601,1)" font-size="23.26" font-weight="normal" fill="#595959">Boys</text>
<text transform="translate(272.54,1604.5) scale(1.1434,1)" font-size="23.26" font-weight="normal" fill="#595959">with</text>
<text transform="translate(325.97,1604.5) scale(0.8523,1)" font-size="23.26" font-weight="normal" fill="#595959">DS</text>
<text transform="translate(214.79,1647.75) scale(1.0353,1)" font-size="23.26" font-weight="normal" fill="#595959">Girls</text>
<text transform="translate(270.74,1647.75) scale(1.1384,1)" font-size="23.26" font-weight="normal" fill="#595959">with</text>
<text transform="translate(322.32,1647.75) scale(0.9307,1)" font-size="23.26" font-weight="normal" fill="#595959">DS</text>
<text transform="translate(215.22,1691) scale(1.0879,1)" font-size="23.26" font-weight="normal" fill="#595959">Norm</text>
<text transform="translate(283.37,1691) scale(0.9760,1)" font-size="23.26" font-weight="normal" fill="#595959">scores</text>
<text transform="translate(355.86,1691) scale(1.0302,1)" font-size="23.26" font-weight="normal" fill="#595959">boys</text>
<text transform="translate(215.22,1734.25) scale(1.0879,1)" font-size="23.26" font-weight="normal" fill="#595959">Norm</text>
<text transform="translate(283.37,1734.25) scale(0.9760,1)" font-size="23.26" font-weight="normal" fill="#595959">scores</text>
<text transform="translate(356.39,1734.25) scale(1.0386,1)" font-size="23.26" font-weight="normal" fill="#595959">girls</text>
<text transform="translate(220.95,1777.5) scale(0.9712,1)" font-size="23.26" font-weight="normal" fill="#595959">Loess</text>
<text transform="translate(285.29,1777.5) scale(1.0922,1)" font-size="23.26" font-weight="normal" fill="#595959">line</text>
<text transform="translate(331.16,1777.5) scale(1.0260,1)" font-size="23.26" font-weight="normal" fill="#595959">boys</text>
<text transform="translate(387.08,1777.5) scale(1.0354,1)" font-size="23.26" font-weight="normal" fill="#595959">and</text>
<text transform="translate(432.07,1777.5) scale(1.0582,1)" font-size="23.26" font-weight="normal" fill="#595959">girls</text>
<text transform="translate(484.34,1777.5) scale(1.1309,1)" font-size="23.26" font-weight="normal" fill="#595959">with</text>
<text transform="translate(536.3,1777.5) scale(0.8898,1)" font-size="23.26" font-weight="normal" fill="#595959">DS</text>
<text transform="translate(215.43,1820.75) scale(0.9859,1)" font-size="23.26" font-weight="normal" fill="#595959">95%</text>
<text transform="translate(266.43,1820.75) scale(0.9082,1)" font-size="23.26" font-weight="normal" fill="#595959">CI</text>
<text transform="translate(292.86,1820.75) scale(1.1706,1)" font-size="23.26" font-weight="normal" fill="#595959">of</text>
<text transform="translate(321.4,1820.75) scale(1.1000,1)" font-size="23.26" font-weight="normal" fill="#595959">norm</text>
<text transform="translate(384.76,1820.75) scale(0.9879,1)" font-size="23.26" font-weight="normal" fill="#595959">scores</text>
<text transform="translate(459.17,1820.75) scale(1.0174,1)" font-size="23.26" font-weight="normal" fill="#595959">boys</text>
<text transform="translate(215.43,1864) scale(0.9859,1)" font-size="23.26" font-weight="normal" fill="#595959">95%</text>
<text transform="translate(266.43,1864) scale(0.9082,1)" font-size="23.26" font-weight="normal" fill="#595959">CI</text>
<text transform="translate(292.86,1864) scale(1.1706,1)" font-size="23.26" font-weight="normal" fill="#595959">of</text>
<text transform="translate(321.4,1864) scale(1.1000,1)" font-size="23.26" font-weight="normal" fill="#595959">norm</text>
<text transform="translate(384.76,1864) scale(0.9879,1)" font-size="23.26" font-weight="normal" fill="#595959">scores</text>
<text transform="translate(459.7,1864) scale(1.0239,1)" font-size="23.26" font-weight="normal" fill="#595959">girls</text>
</svg>
</body></html>
